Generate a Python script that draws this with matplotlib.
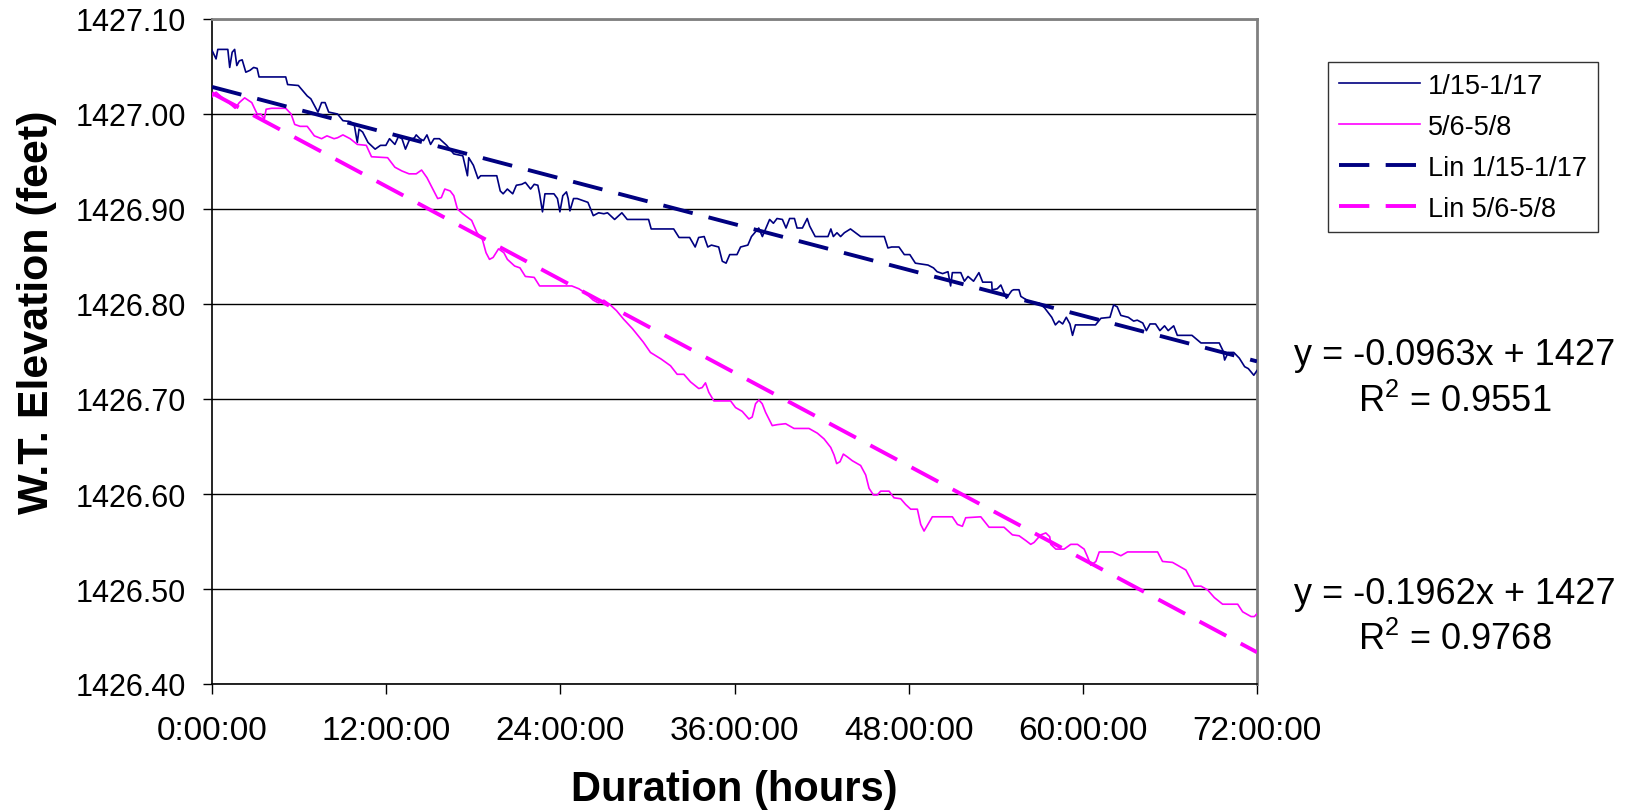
import matplotlib
matplotlib.use("Agg")
import matplotlib.pyplot as plt
import numpy as np

# ---------------- data ----------------
blue_hours = [
    0.0, 0.28, 0.40, 1.09, 1.22, 1.39, 1.56, 1.71, 1.88, 2.08,
    2.33, 2.62, 2.87, 3.11, 3.24, 5.08, 5.21, 5.95, 6.56, 6.81,
    7.30, 7.55, 7.79, 8.04, 8.65, 9.02, 9.52, 9.81, 10.01, 10.13,
    10.38, 10.75, 11.24, 11.61, 11.98, 12.23, 12.60, 12.84, 13.09, 13.33,
    13.58, 13.95, 14.07, 14.32, 14.57, 14.81, 15.06, 15.30, 15.67, 16.17,
    16.66, 17.28, 17.60, 17.69, 18.01, 18.33, 18.51, 19.62, 19.86, 20.06,
    20.35, 20.72, 20.97, 21.34, 21.59, 21.95, 22.20, 22.45, 22.57, 22.77,
    22.94, 23.56, 23.80, 23.97, 24.17, 24.42, 24.54, 24.66, 24.91, 25.16,
    25.90, 26.27, 26.64, 27.00, 27.25, 27.74, 28.24, 28.61, 30.08, 30.26,
    31.81, 32.18, 32.91, 33.29, 33.53, 33.91, 34.16, 34.41, 34.91, 35.16,
    35.42, 35.67, 36.17, 36.42, 36.92, 37.17, 37.67, 37.92, 38.17, 38.42,
    38.68, 38.93, 39.30, 39.55, 39.80, 40.13, 40.31, 40.68, 41.01, 41.18,
    41.56, 42.44, 42.64, 42.81, 43.06, 43.31, 43.57, 43.99, 44.69, 46.32,
    46.57, 46.83, 47.33, 47.70, 48.08, 48.46, 49.33, 49.71, 49.96, 50.34,
    50.71, 50.89, 51.01, 51.59, 51.84, 52.09, 52.47, 52.84, 53.10, 53.72,
    53.75, 54.10, 54.35, 54.73, 55.10, 55.23, 55.60, 55.73, 56.36, 56.98,
    57.36, 57.86, 58.11, 58.36, 58.61, 58.86, 59.11, 59.29, 59.49, 60.87,
    61.25, 61.87, 62.12, 62.37, 62.62, 63.13, 63.50, 63.75, 64.13, 64.38,
    64.63, 65.01, 65.31, 65.63, 65.88, 66.26, 66.51, 67.52, 68.14, 69.40,
    69.65, 69.77, 70.02, 70.40, 70.78, 71.15, 71.40, 71.78, 72.00,
]
blue_feet = [
    1427.067, 1427.058, 1427.068, 1427.068, 1427.049, 1427.065, 1427.068, 1427.051, 1427.056, 1427.057,
    1427.044, 1427.046, 1427.049, 1427.048, 1427.039, 1427.039, 1427.031, 1427.030, 1427.019, 1427.016,
    1427.002, 1427.012, 1427.012, 1427.002, 1427.000, 1426.993, 1426.992, 1426.988, 1426.970, 1426.984,
    1426.981, 1426.970, 1426.963, 1426.967, 1426.967, 1426.974, 1426.968, 1426.976, 1426.974, 1426.963,
    1426.972, 1426.975, 1426.978, 1426.974, 1426.972, 1426.978, 1426.968, 1426.974, 1426.974, 1426.967,
    1426.958, 1426.956, 1426.935, 1426.954, 1426.946, 1426.932, 1426.935, 1426.935, 1426.919, 1426.916,
    1426.921, 1426.916, 1426.925, 1426.926, 1426.928, 1426.921, 1426.926, 1426.925, 1426.916, 1426.897,
    1426.916, 1426.916, 1426.911, 1426.897, 1426.914, 1426.918, 1426.911, 1426.898, 1426.911, 1426.911,
    1426.907, 1426.893, 1426.896, 1426.895, 1426.896, 1426.889, 1426.896, 1426.889, 1426.889, 1426.879,
    1426.879, 1426.870, 1426.870, 1426.860, 1426.870, 1426.871, 1426.860, 1426.862, 1426.860, 1426.845,
    1426.843, 1426.852, 1426.852, 1426.860, 1426.862, 1426.871, 1426.880, 1426.871, 1426.880, 1426.889,
    1426.885, 1426.890, 1426.889, 1426.880, 1426.890, 1426.890, 1426.880, 1426.880, 1426.890, 1426.882,
    1426.871, 1426.871, 1426.879, 1426.871, 1426.875, 1426.871, 1426.875, 1426.879, 1426.871, 1426.871,
    1426.859, 1426.860, 1426.860, 1426.852, 1426.852, 1426.843, 1426.841, 1426.838, 1426.834, 1426.832,
    1426.834, 1426.819, 1426.833, 1426.833, 1426.824, 1426.829, 1426.824, 1426.833, 1426.823, 1426.823,
    1426.815, 1426.816, 1426.820, 1426.806, 1426.814, 1426.815, 1426.815, 1426.808, 1426.802, 1426.801,
    1426.796, 1426.786, 1426.778, 1426.782, 1426.779, 1426.786, 1426.779, 1426.767, 1426.778, 1426.778,
    1426.785, 1426.786, 1426.799, 1426.797, 1426.788, 1426.786, 1426.782, 1426.783, 1426.780, 1426.772,
    1426.779, 1426.779, 1426.772, 1426.777, 1426.772, 1426.777, 1426.767, 1426.767, 1426.759, 1426.759,
    1426.751, 1426.741, 1426.749, 1426.749, 1426.743, 1426.734, 1426.732, 1426.725, 1426.730,
]

pink_hours = [
    0.0, 0.28, 0.65, 1.14, 1.59, 1.88, 2.25, 2.74, 3.11, 3.36,
    3.61, 3.73, 4.10, 5.08, 5.45, 5.70, 6.07, 6.56, 6.81, 7.05,
    7.55, 7.92, 8.41, 8.65, 9.02, 9.52, 10.01, 10.63, 10.99, 12.10,
    12.60, 13.09, 13.58, 14.07, 14.44, 14.81, 15.31, 15.55, 15.80, 16.04,
    16.41, 16.66, 16.91, 17.28, 17.89, 18.26, 18.63, 18.88, 19.12, 19.37,
    19.74, 20.11, 20.35, 20.85, 21.22, 21.59, 22.20, 22.57, 24.79, 25.28,
    25.77, 26.27, 26.64, 27.00, 27.37, 27.87, 28.36, 28.97, 29.71, 30.21,
    30.95, 31.59, 32.05, 32.51, 32.97, 33.54, 33.77, 34.00, 34.23, 34.58,
    35.73, 36.07, 36.53, 36.99, 37.22, 37.45, 37.68, 37.91, 38.14, 38.60,
    38.95, 39.52, 40.10, 41.13, 41.71, 42.17, 42.63, 42.86, 43.04, 43.27,
    43.50, 43.78, 44.12, 44.69, 45.04, 45.27, 45.57, 45.84, 46.07, 46.65,
    46.99, 47.45, 47.79, 48.14, 48.60, 48.83, 49.06, 49.63, 51.01, 51.36,
    51.70, 51.93, 52.97, 53.54, 54.57, 55.15, 55.61, 56.07, 56.41, 56.64,
    57.10, 57.45, 57.72, 57.79, 58.14, 58.71, 59.17, 59.63, 60.09, 60.32,
    60.55, 60.90, 61.13, 62.05, 62.62, 63.08, 65.15, 65.49, 66.18, 66.64,
    67.10, 67.45, 67.68, 68.14, 68.60, 69.06, 69.63, 70.67, 71.01, 71.59,
    71.82, 72.00,
]
pink_feet = [
    1427.018, 1427.023, 1427.018, 1427.012, 1427.006, 1427.012, 1427.017, 1427.012, 1427.000, 1427.000,
    1426.995, 1427.005, 1427.006, 1427.006, 1427.000, 1426.989, 1426.987, 1426.987, 1426.982, 1426.977,
    1426.974, 1426.977, 1426.974, 1426.975, 1426.978, 1426.974, 1426.968, 1426.967, 1426.955, 1426.954,
    1426.944, 1426.940, 1426.937, 1426.937, 1426.941, 1426.933, 1426.918, 1426.911, 1426.912, 1426.921,
    1426.919, 1426.914, 1426.900, 1426.895, 1426.888, 1426.875, 1426.868, 1426.854, 1426.847, 1426.849,
    1426.858, 1426.854, 1426.847, 1426.840, 1426.838, 1426.829, 1426.828, 1426.819, 1426.819, 1426.816,
    1426.811, 1426.804, 1426.801, 1426.804, 1426.800, 1426.793, 1426.784, 1426.774, 1426.760, 1426.749,
    1426.742, 1426.735, 1426.726, 1426.726, 1426.718, 1426.711, 1426.712, 1426.717, 1426.707, 1426.698,
    1426.698, 1426.691, 1426.687, 1426.679, 1426.681, 1426.695, 1426.699, 1426.695, 1426.686, 1426.672,
    1426.673, 1426.674, 1426.669, 1426.669, 1426.664, 1426.658, 1426.649, 1426.641, 1426.632, 1426.634,
    1426.642, 1426.639, 1426.635, 1426.630, 1426.620, 1426.606, 1426.599, 1426.599, 1426.603, 1426.603,
    1426.596, 1426.595, 1426.589, 1426.584, 1426.584, 1426.568, 1426.561, 1426.576, 1426.576, 1426.568,
    1426.566, 1426.575, 1426.576, 1426.565, 1426.565, 1426.557, 1426.556, 1426.551, 1426.547, 1426.549,
    1426.557, 1426.559, 1426.555, 1426.547, 1426.542, 1426.542, 1426.547, 1426.547, 1426.542, 1426.534,
    1426.525, 1426.529, 1426.539, 1426.539, 1426.535, 1426.539, 1426.539, 1426.529, 1426.528, 1426.524,
    1426.520, 1426.510, 1426.503, 1426.503, 1426.499, 1426.491, 1426.484, 1426.484, 1426.476, 1426.471,
    1426.471, 1426.474,
]

# linear trendlines (x in days, as in the spreadsheet)
blue_slope_per_day = -0.0963
blue_intercept = 1427.0285
pink_slope_per_day = -0.1962
pink_intercept = 1427.022

series_labels = ["1/15-1/17", "5/6-5/8", "Lin 1/15-1/17", "Lin 5/6-5/8"]
equation_texts = ["y = -0.0963x + 1427", r"R$^{2}$ = 0.9551",
                  "y = -0.1962x + 1427", r"R$^{2}$ = 0.9768"]
x_ticks = [0, 12, 24, 36, 48, 60, 72]
x_tick_labels = ["0:00:00", "12:00:00", "24:00:00", "36:00:00",
                 "48:00:00", "60:00:00", "72:00:00"]
y_ticks = [1426.40, 1426.50, 1426.60, 1426.70, 1426.80, 1426.90, 1427.00, 1427.10]

# ---------------- style ----------------
plt.rcParams['font.family'] = ['Liberation Sans', 'DejaVu Sans']
plt.rcParams['mathtext.fontset'] = 'custom'
plt.rcParams['mathtext.rm'] = 'Liberation Sans'
plt.rcParams['mathtext.it'] = 'Liberation Sans'
plt.rcParams['mathtext.default'] = 'regular'
NAVY = '#000080'
MAGENTA = '#FF00FF'

fig = plt.figure(figsize=(16.29, 8.12), dpi=100)
ax = fig.add_axes([212 / 1629, 1 - 685 / 812, (1257 - 212) / 1629, (685 - 20) / 812])

ax.plot(blue_hours, blue_feet, color=NAVY, lw=1.2, label=series_labels[0], zorder=3)
ax.plot(pink_hours, pink_feet, color=MAGENTA, lw=1.2, label=series_labels[1], zorder=3)

trend_x = np.array([0.0, 72.0])
blue_trend = blue_intercept + blue_slope_per_day * trend_x / 24.0
pink_trend = pink_intercept + pink_slope_per_day * trend_x / 24.0
lw_d = 2.8
ax.plot(trend_x, blue_trend, color=NAVY, lw=lw_d, dashes=(7.8, 4.2),
        label=series_labels[2], zorder=4, dash_capstyle='butt')
ax.plot(trend_x, pink_trend, color=MAGENTA, lw=lw_d, dashes=(7.8, 4.2),
        label=series_labels[3], zorder=4, dash_capstyle='butt')

ax.set_xlim(0, 72)
ax.set_ylim(1426.40, 1427.10)
ax.set_xticks(x_ticks)
ax.set_xticklabels(x_tick_labels)
ax.set_yticks(y_ticks)
ax.set_yticklabels([f"{v:.2f}" for v in y_ticks])

ax.yaxis.grid(True, color='black', lw=1.0)
ax.set_axisbelow(True)

for side in ['top', 'right']:
    ax.spines[side].set_color('#808080')
    ax.spines[side].set_linewidth(2.0)
for side in ['left', 'bottom']:
    ax.spines[side].set_color('black')
    ax.spines[side].set_linewidth(1.2)

ax.tick_params(axis='y', direction='out', length=6.5, width=1, labelsize=22, pad=12, color='black')
ax.tick_params(axis='x', direction='out', length=7, width=1, labelsize=24, pad=15, color='black')

ax.set_xlabel("Duration (hours)", fontsize=30, fontweight='bold', va='center')
ax.xaxis.set_label_coords(0.5, -0.158)
ax.set_ylabel("W.T. Elevation (feet)", fontsize=31, fontweight='bold', va='center', ha='center')
ax.yaxis.set_label_coords(-0.167, 0.561)

leg = ax.legend(loc='upper left', bbox_to_anchor=(1328 / 1629, 1 - 63 / 812),
                bbox_transform=fig.transFigure, fontsize=19.5, frameon=True,
                fancybox=False, shadow=False, borderaxespad=0, handlelength=3.0,
                handletextpad=0.3, borderpad=0.4, labelspacing=0.55)
leg.get_frame().set_edgecolor('black')
leg.get_frame().set_linewidth(1.0)

eq_x = 1455 / 1629
eq_y = [1 - 356 / 812, 1 - 402 / 812, 1 - 595 / 812, 1 - 640 / 812]
for txt, yy in zip(equation_texts, eq_y):
    fig.text(eq_x, yy, txt, fontsize=26, ha='center', va='center')

fig.savefig("out.png", dpi=100)
